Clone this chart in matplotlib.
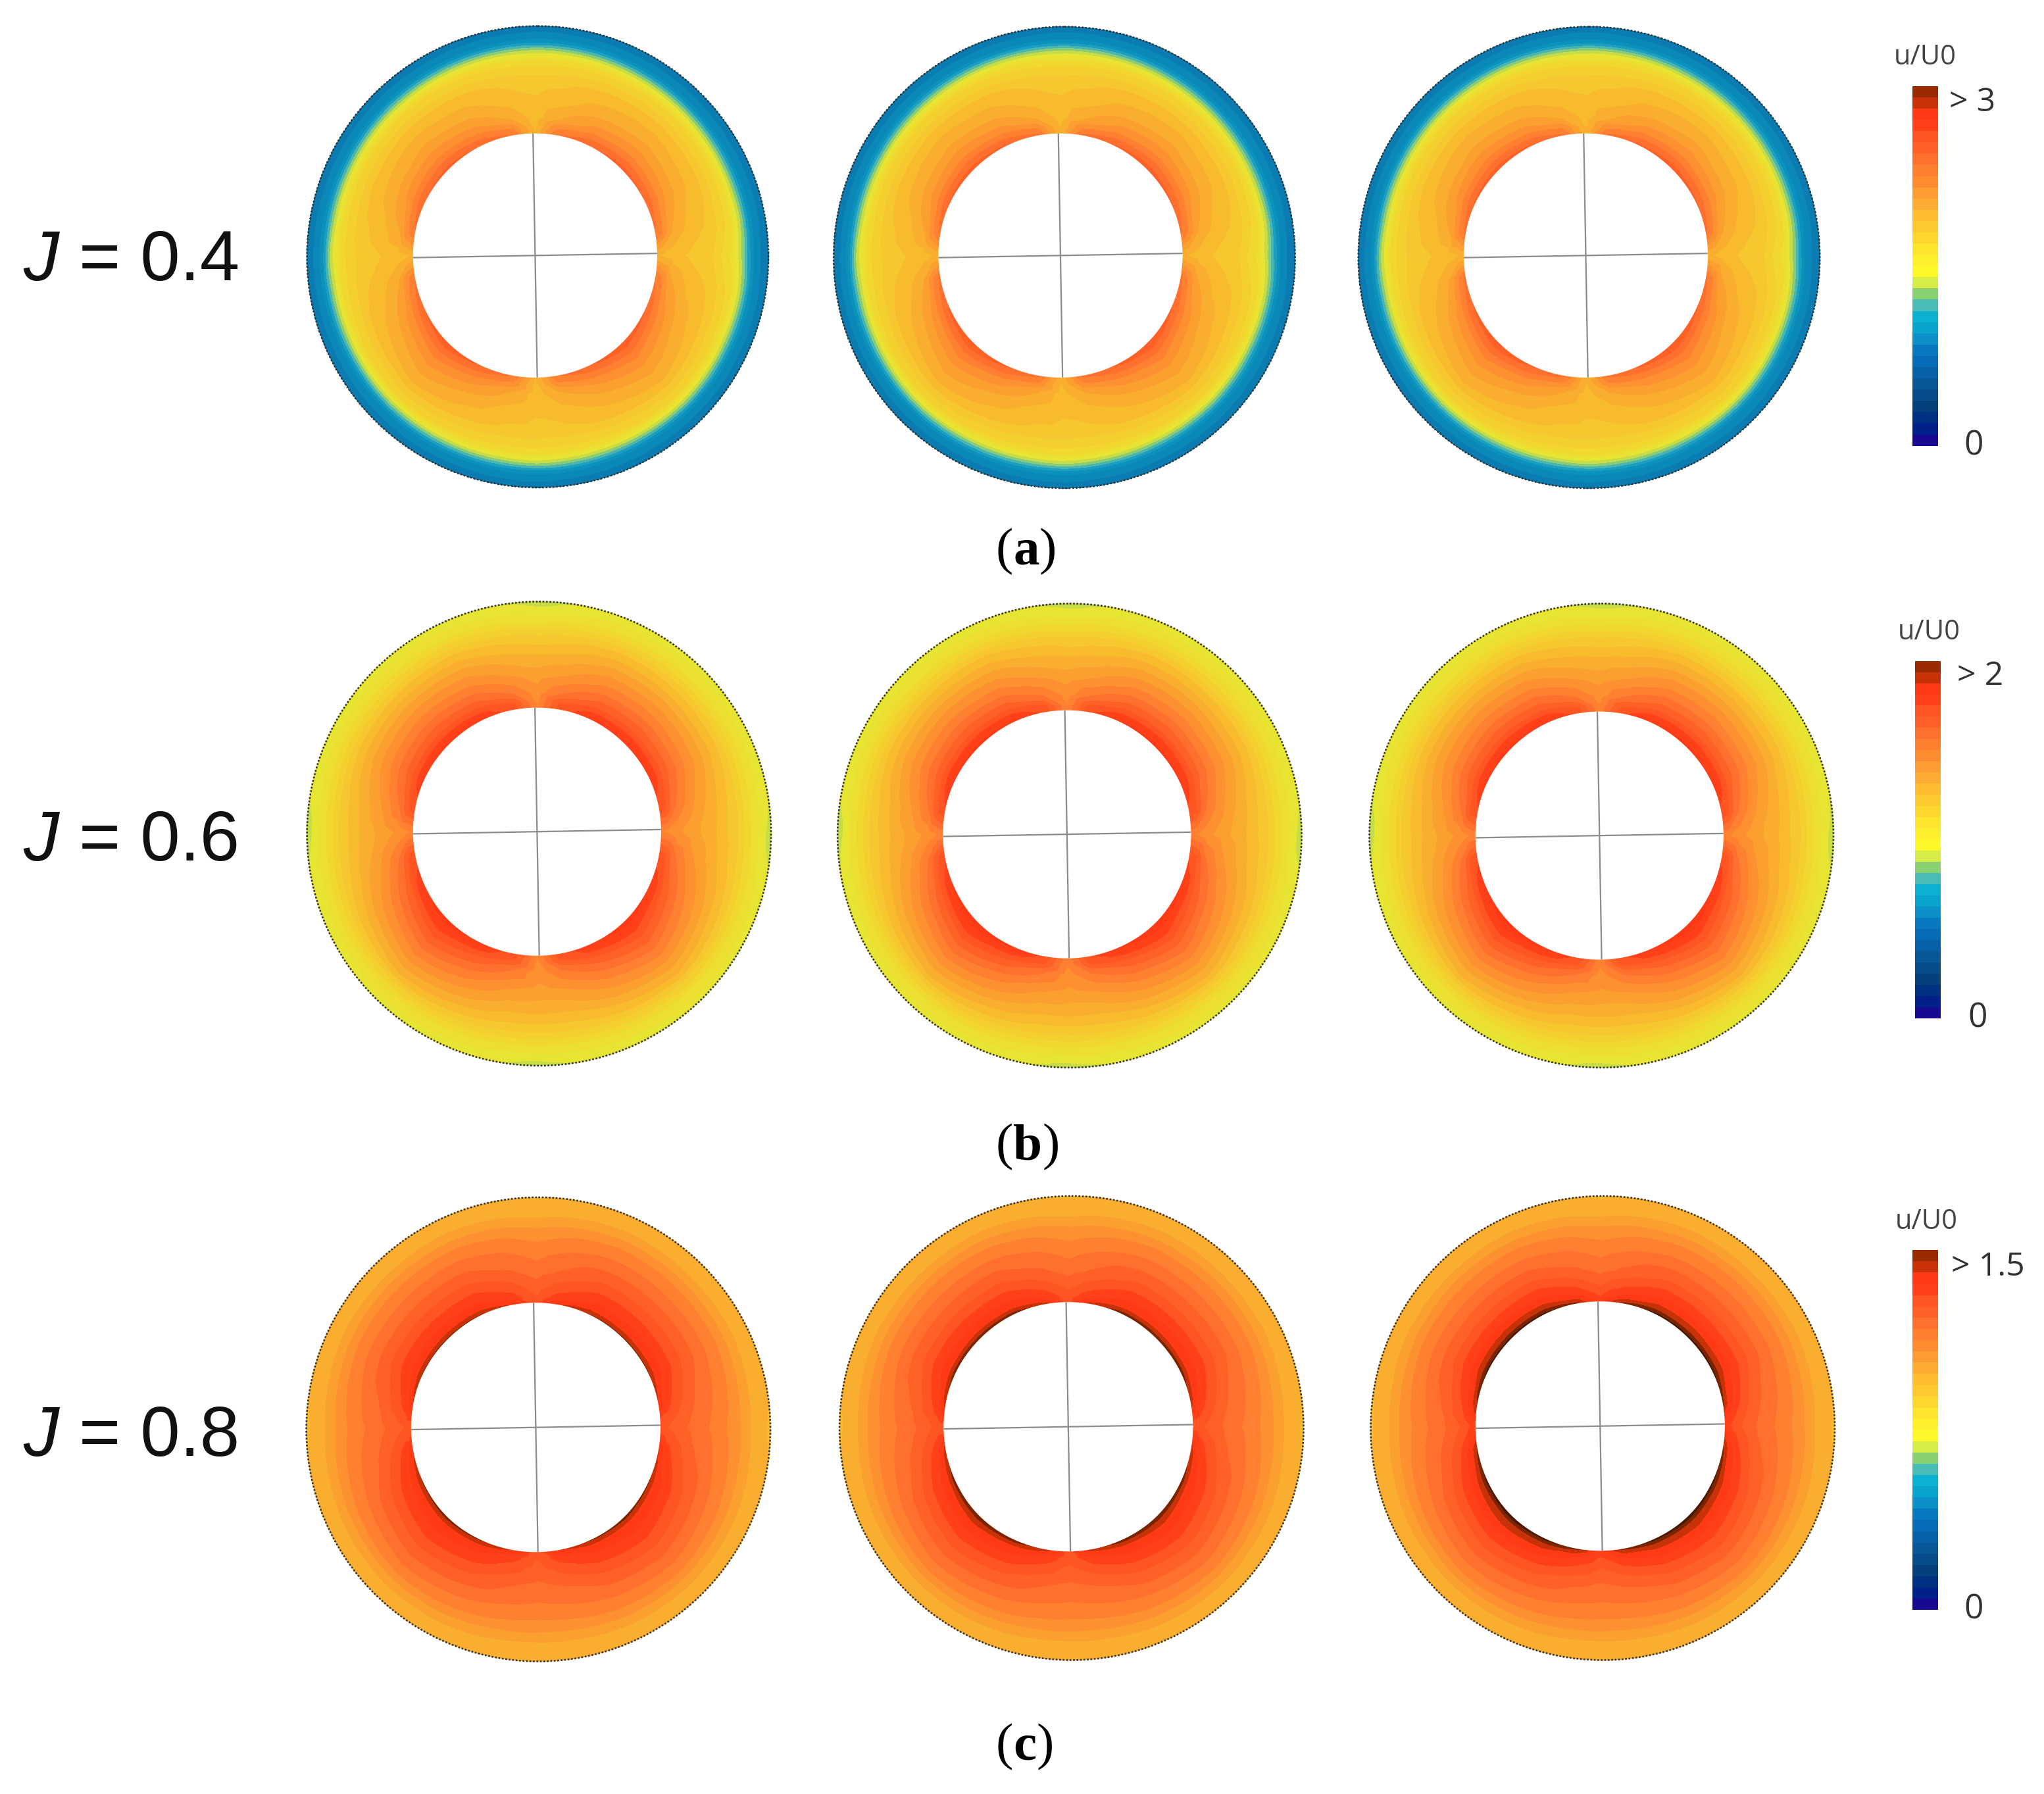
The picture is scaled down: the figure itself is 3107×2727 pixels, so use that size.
import numpy as np
from matplotlib import pyplot as plt
from matplotlib import tri
from matplotlib.colors import ListedColormap, BoundaryNorm
from matplotlib.patches import Circle

plt.rcParams['font.family'] = ['Liberation Sans']

W, H = 3107, 2727
SC = 3107 / 1568  # positions below were read on the 1568 wide view

# colour bands of the legend, bottom to top
bands = ['#180a90', '#00208a', '#003080', '#04407c', '#064c88', '#085898', '#0860a8', '#066cb8',
         '#0878c0', '#0c90c8', '#08a4cc', '#0cb0d0', '#48bdb8', '#88d070', '#d8ec48', '#fdf82a',
         '#fef02e', '#fee52e', '#fed62e', '#fdc92e', '#fdbb30', '#fdac33', '#fd9c30', '#fd8c30',
         '#ff7f30', '#ff6f2e', '#ff6026', '#ff5522', '#ff4018', '#ff3a14', '#c83208', '#9a2a00']
# same bands as they look inside the rings (paler print)
ring_bands = ['#180a90', '#00208a', '#003080', '#04407c', '#064c88', '#085898', '#0864a0', '#0870ac',
              '#0a7cb2', '#0a88b8', '#0a92bc', '#1a9fc0', '#4ab4b0', '#88cc78', '#c8dc48', '#e8e432',
              '#ecdf30', '#f0d82f', '#f3d02e', '#f6c72e', '#f8bb2e', '#f9ae2f', '#fb9f2e', '#fd9030',
              '#fe8030', '#ff6f2e', '#ff6026', '#ff5522', '#ff4018', '#ff3a14', '#c83208', '#7a2400']

# radial stations, 0 at the hub and 1 at the outer edge
stations = [0, .06, .15, .3, .5, .68, .78, .86, 1]
# directions (deg) and which profile was read along each
angles = [0, 10, 25, 45, 65, 80, 90, 100, 115, 135, 155, 170, 180,
          190, 205, 225, 245, 260, 270, 280, 295, 315, 335, 350, 360]
dir_keys = ['E', 'n', 'm', 'u', 'm', 'n', 'T', 'n', 'm', 'u', 'm', 'n', 'W',
            'n', 'm', 'l', 'm', 'n', 'B', 'n', 'm', 'l', 'm', 'n', 'E']
# hub edge against a plain circle, per direction
hub_scale = {'E': 1, 'W': 1, 'T': 1, 'B': 1, 'n': 1.002, 'm': 1.004, 'u': 1.0, 'l': 1.014}

# values in legend band units (0-32), J = 0.4
prof_a = {'E': [21, 20.8, 20.4, 19.8, 19, 16.6, 13.2, 10, 7.8],
          'W': [21, 20.8, 20.4, 20, 19.4, 17.6, 14.2, 10.3, 8],
          'T': [21, 20.8, 20.5, 20.2, 19.5, 17.4, 13.8, 10.3, 8.2],
          'B': [21, 20.8, 20.5, 20.2, 19.6, 17.6, 14, 10.3, 8.2],
          'n': [25, 24, 22, 20.7, 19.7, 17.5, 13.7, 10.2, 8],
          'm': [26, 25, 23.4, 21.7, 20.2, 17.7, 13.6, 10.1, 8],
          'u': [26.5, 25.5, 24, 22.2, 20.5, 17.8, 13.6, 10.1, 8],
          'l': [27, 26, 24.5, 22.8, 21, 18.2, 13.8, 10.1, 8]}
# J = 0.6
prof_b = {'E': [24, 23.8, 23.2, 22.4, 21, 19.3, 17.6, 16.3, 14.3],
          'W': [24, 23.8, 23.2, 22.4, 21, 19.3, 17.6, 16.3, 14.3],
          'T': [24, 23.8, 23.4, 22.6, 21, 19, 17.2, 16, 14.4],
          'B': [24, 23.8, 23.4, 22.8, 21.3, 19.4, 17.6, 16.3, 14.4],
          'n': [27.5, 27, 25, 23.2, 21.3, 19.4, 17.7, 16.3, 15],
          'm': [28.8, 28.2, 26.5, 24.5, 22.3, 20, 18.2, 16.7, 15.1],
          'u': [29, 28.5, 26.8, 24.8, 22.5, 20, 18.2, 16.7, 15.2],
          'l': [29.5, 29, 27.8, 25.8, 23.4, 21, 18.8, 17, 15.3]}
# J = 0.8
prof_c = {'E': [27, 27, 26.5, 25.7, 24.7, 23.5, 22.4, 21.6, 20.8],
          'W': [27, 27, 26.5, 25.7, 24.7, 23.5, 22.4, 21.6, 20.8],
          'T': [27, 27, 26.5, 25.5, 24.5, 23.3, 22.2, 21.5, 20.9],
          'B': [27, 27, 26.6, 25.8, 24.8, 23.6, 22.5, 21.6, 21],
          'n': [30, 28.6, 27.6, 26.2, 25, 23.7, 22.5, 21.7, 21],
          'm': [31.2, 29.6, 28.7, 27.2, 25.5, 24, 22.8, 21.9, 21],
          'u': [31.3, 29.7, 28.8, 27.2, 25.5, 24, 22.8, 21.8, 21],
          'l': [31.6, 30, 29.2, 27.8, 26, 24.4, 23, 22, 21]}
profiles = [prof_a, prof_b, prof_c]
hub_shift = [[0, .2, .2], [0, .3, .3], [0, .5, 1.3]]

# outer circle centre, hub centre
outer_c = [[(412.5, 197), (816.5, 197.5), (1219, 197.5)],
           [(413.5, 639.5), (820.5, 641), (1228.5, 641)],
           [(413, 1096.5), (822, 1095.5), (1229.5, 1095.5)]]
hub_c = [[(410.5, 196), (813.5, 196), (1216.5, 196)],
         [(412, 638), (818.5, 640), (1227, 641)],
         [(411, 1095), (819.5, 1094.5), (1227.5, 1094)]]
outer_r = [177, 178, 178]
hub_r = [93, 94.5, 95]

j_labels = ['0.4', '0.6', '0.8']
j_y = [197, 642, 1099]
captions = ['a', 'b', 'c']
cap_y = [420.5, 877.5, 1337.5]
# legend: left, right, top, bottom of the bar
bar_box = [(1467, 1487, 66, 342), (1469, 1489, 507, 781), (1467, 1487, 959, 1235)]
bar_top = ['> 3', '> 2', '> 1.5']
bar_top_pos = [(1513, 79), (1519, 519), (1525, 972)]
bar_zero_pos = [(1514, 342), (1517, 781), (1514, 1235)]
bar_title_pos = [(1477, 44), (1480, 485), (1478, 937)]

bar_cmap = ListedColormap(bands)
cmap = ListedColormap(ring_bands)
cmap.set_over('#4a1800')
levels = np.arange(33)
norm = BoundaryNorm(levels, cmap.N)

fig = plt.figure(figsize=(W / 100, H / 100), dpi=100)
ax = fig.add_axes([0, 0, 1, 1])
ax.set_xlim(0, W)
ax.set_ylim(H, 0)
ax.axis('off')
renderer = fig.canvas.get_renderer()

# grid nodes in (angle, station) and their triangles
na, ns = len(angles), len(stations)
th, st = np.meshgrid(angles, stations, indexing='ij')
tris = []
for i in range(na - 1):
    for k in range(ns - 1):
        a = i * ns + k
        b = (i + 1) * ns + k
        tris.append([a, b, b + 1])
        tris.append([a, b + 1, a + 1])
base = tri.Triangulation(th.ravel().astype(float), st.ravel().astype(float), np.array(tris))
refiner = tri.UniformTriRefiner(base)

# smoothed hub edge
deg = np.arange(361)
edge = np.interp(deg, angles, [hub_scale[k] for k in dir_keys])
win = np.ones(25) / 25
edge = np.convolve(np.r_[edge[-13:-1], edge, edge[1:13]], win, mode='valid')

for row in range(3):
    for col in range(3):
        z = np.array([profiles[row][key] for key in dir_keys], dtype=float)
        z = (z + hub_shift[row][col] * (1 - st) ** 6).ravel()
        # linear, the cubic one overshoots next to the narrow notches
        fine, fz = refiner.refine_field(z, triinterpolator=tri.LinearTriInterpolator(base, z), subdiv=3)
        t = np.radians(fine.x)
        s = fine.y
        ox, oy = outer_c[row][col]
        hx, hy = hub_c[row][col]
        hr = hub_r[row] * np.interp(fine.x, deg, edge)
        px = (hx + hr * np.cos(t)) * (1 - s) + (ox + outer_r[row] * np.cos(t)) * s
        py = (hy - hr * np.sin(t)) * (1 - s) + (oy - outer_r[row] * np.sin(t)) * s
        mapped = tri.Triangulation(px * SC, py * SC, fine.triangles)
        ax.tricontourf(mapped, fz, levels=levels, cmap=cmap, norm=norm, extend='both', antialiased=False)

        ax.add_patch(Circle((ox * SC, oy * SC), outer_r[row] * SC, fill=False, ec='#333333', lw=1.9,
                            ls=(0, (1, 1)), zorder=5))
        rad = np.radians(deg)
        ax.plot((hx + hub_r[row] * edge * np.cos(rad)) * SC, (hy - hub_r[row] * edge * np.sin(rad)) * SC,
                color='white', lw=1.5, zorder=5)
        # cross in the hub, a little tilted
        tilt = np.radians(1.0)
        for d in [0, np.pi / 2]:
            dx = hub_r[row] * SC * np.cos(tilt + d)
            dy = hub_r[row] * SC * np.sin(tilt + d)
            ax.plot([hx * SC - dx, hx * SC + dx], [hy * SC + dy, hy * SC - dy], color='#8c8c8c', lw=1.6, zorder=6)


def chain(x, y, pieces, **kw):
    # texts of different style one after the other, on one baseline
    for txt, extra in pieces:
        t = ax.text(x, y, txt, va='baseline', ha='left', **kw, **extra)
        x = t.get_window_extent(renderer).x1
    return x


for row in range(3):
    # J label: baseline below the centre
    base_y = (j_y[row] + 18) * SC
    t1 = ax.text(18 * SC, base_y, 'J', fontsize=78, style='italic', color='#111111', va='baseline', ha='left')
    x1 = t1.get_window_extent(renderer).x1
    ax.text(x1 + 30, base_y, '= ' + j_labels[row], fontsize=78, color='#111111', va='baseline', ha='left')

    cap_base = (cap_y[row] + 12) * SC
    serif = {'family': 'Liberation Serif', 'fontsize': 57, 'color': 'black'}
    chain(764 * SC, cap_base, [('(', {}), (captions[row], {'weight': 'bold'}), (')', {})], **serif)

    left, right, top, bottom = bar_box[row]
    ys = np.linspace(bottom, top, len(bands) + 1) * SC
    xs = np.array([left, right]) * SC
    ax.pcolormesh(xs, ys, np.arange(len(bands)).reshape(-1, 1) + .5, cmap=bar_cmap, norm=norm, zorder=3)
    ax.text(bar_title_pos[row][0] * SC, bar_title_pos[row][1] * SC, 'u/U0', fontsize=30, family='Open Sans',
            color='#444444', ha='center', va='center')
    ax.text(bar_top_pos[row][0] * SC, bar_top_pos[row][1] * SC, bar_top[row], fontsize=36, family='Open Sans',
            color='#333333', ha='center', va='center')
    ax.text(bar_zero_pos[row][0] * SC, bar_zero_pos[row][1] * SC, '0', fontsize=37, family='Open Sans',
            color='#333333', ha='center', va='center')

fig.savefig('out.png', dpi=100, facecolor='white')
